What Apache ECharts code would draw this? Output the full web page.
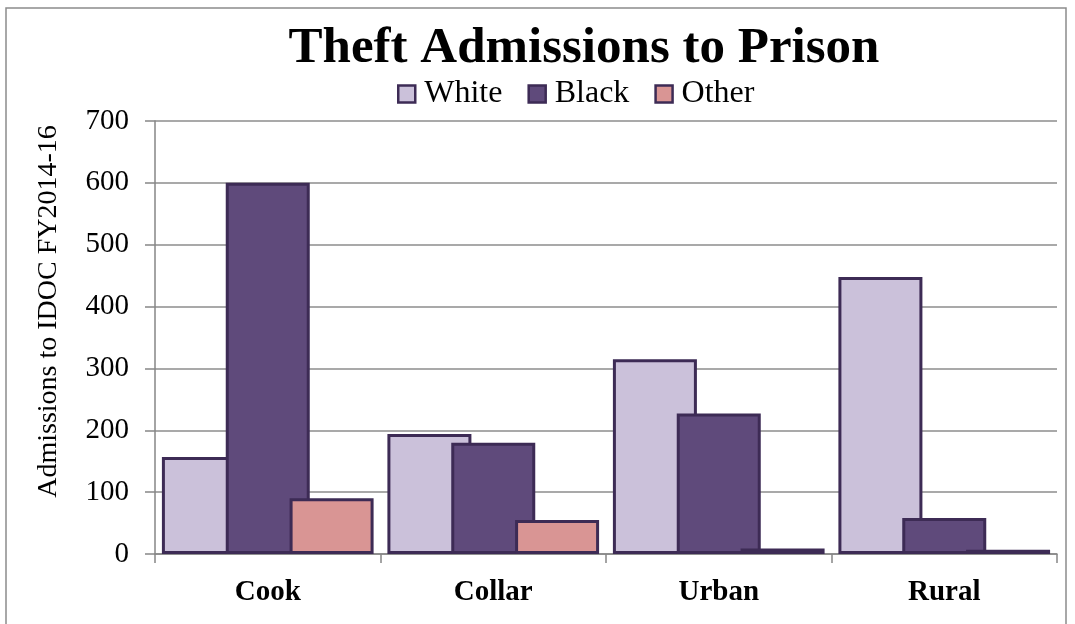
<!DOCTYPE html>
<html><head><meta charset="utf-8">
<script src="https://cdn.jsdelivr.net/npm/echarts@6/dist/echarts.min.js"></script>
<style>html,body{margin:0;padding:0;background:#fff}#c{width:1075px;height:624px}</style>
</head><body><div id="c"></div>
<script>
const categories = ["Cook", "Collar", "Urban", "Rural"];
const white = [157, 194, 315, 448];
const black = [600, 180, 227, 58];
const other = [90, 55, 9, 7];
const yTicks = [0, 100, 200, 300, 400, 500, 600, 700];

const F = "'Liberation Serif', 'DejaVu Serif', serif";
const border = '#3d2b55';
const chart = echarts.init(document.getElementById('c'));
function ser(name, data, color) {
  return {
    name, type: 'bar', data, barWidth: 84, barGap: '-24%',
    itemStyle: { color, borderColor: border, borderWidth: 3 },
    emphasis: { disabled: true }
  };
}
chart.setOption({
  animation: false,
  backgroundColor: '#fff',
  graphic: [{ type: 'rect', shape: { x: 6, y: 8, width: 1060, height: 630 }, style: { fill: 'none', stroke: '#8c8c8c', lineWidth: 1.5 }, silent: true }],
  title: { text: 'Theft Admissions to Prison', left: 579, textAlign: 'center', top: 18,
    textStyle: { fontFamily: F, fontWeight: 'bold', fontSize: 51, color: '#000' } },
  legend: { top: 73, left: 392, icon: 'rect', itemWidth: 17, itemHeight: 17, itemGap: 25,
    itemStyle: { borderColor: border, borderWidth: 2.5 },
    textStyle: { fontFamily: F, fontSize: 32, color: '#000', padding: [0, 0, 0, 4] },
    data: ['White', 'Black', 'Other'] },
  grid: { left: 155, right: 18, top: 121, bottom: 70, containLabel: false },
  xAxis: { type: 'category', data: categories,
    axisLine: { lineStyle: { color: '#868686', width: 1.5 } },
    axisTick: { show: true, length: 9, lineStyle: { color: '#868686', width: 1.5 }, alignWithLabel: false },
    axisLabel: { fontFamily: F, fontWeight: 'bold', fontSize: 29, color: '#000', margin: 24 } },
  yAxis: { type: 'value', min: 0, max: 700, interval: 100,
    name: 'Admissions to IDOC FY2014-16', nameLocation: 'middle', nameGap: 92, nameRotate: 90,
    nameTextStyle: { fontFamily: F, fontSize: 28, color: '#000', padding: [0, 0, 0, 52] },
    axisLine: { show: true, lineStyle: { color: '#868686', width: 1.5 } },
    axisTick: { show: true, length: 10, lineStyle: { color: '#868686', width: 1.5 } },
    axisLabel: { fontFamily: F, fontSize: 29, color: '#000', margin: 26,
      formatter: v => yTicks.includes(v) ? String(v) : '' },
    splitLine: { lineStyle: { color: '#8c8c8c', width: 1.5 } } },
  series: [ser('White', white, '#cbc1da'), ser('Black', black, '#5f4a7b'), ser('Other', other, '#d99594')]
});
</script></body></html>
